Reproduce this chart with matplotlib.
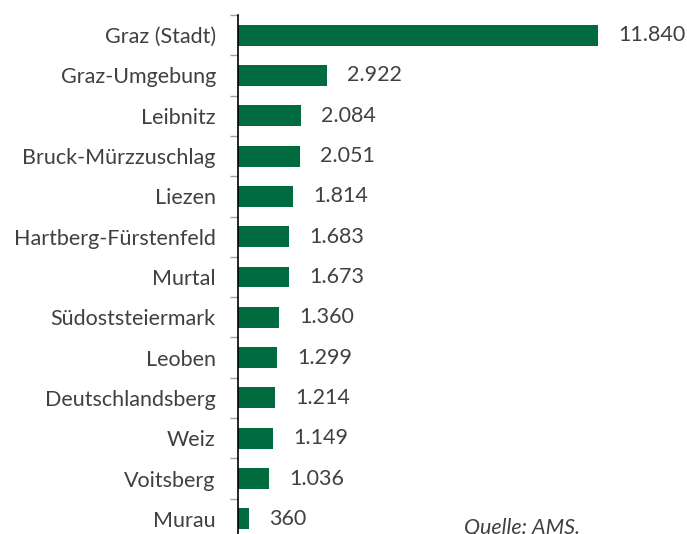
import numpy as np
import matplotlib.pyplot as plt

districts = ["Graz (Stadt)", "Graz-Umgebung", "Leibnitz", "Bruck-Mürzzuschlag", "Liezen",
             "Hartberg-Fürstenfeld", "Murtal", "Südoststeiermark", "Leoben",
             "Deutschlandsberg", "Weiz", "Voitsberg", "Murau"]
values = [11840, 2922, 2084, 2051, 1814, 1683, 1673, 1360, 1299, 1214, 1149, 1036, 360]

green = "#006B3F"
txt = "#404040"
plt.rcParams['font.family'] = ['Lato', 'DejaVu Sans']

fig = plt.figure(figsize=(6.87, 5.34), dpi=100)
ax = fig.add_axes([238 / 687, -5 / 534, 449 / 687, 524 / 534])

y = np.arange(len(districts))
ax.barh(y, values, height=0.52, color=green)
ax.set_ylim(len(districts) - 0.5, -0.5)
ax.set_xlim(0, 449 / 0.0304)

for yi, v in zip(y, values):
    lab = f"{v:,}".replace(",", ".")
    ax.text(v + 660, yi, lab, va="center", ha="left", fontsize=15.5, color=txt)

ax.set_yticks(y)
ax.set_yticklabels(districts, fontsize=15.5, color=txt)
ax.tick_params(axis="y", which="major", length=0, pad=16)
ax.set_yticks(np.arange(len(districts) + 1) - 0.5, minor=True)
ax.tick_params(axis="y", which="minor", length=6, color="#a0a0a0", width=1)
ax.set_xticks([])
for s in ["top", "right", "bottom"]:
    ax.spines[s].set_visible(False)
ax.spines["left"].set_color("black")
ax.spines["left"].set_linewidth(1.2)

fig.text(464 / 687, 1 - 534 / 534, "Quelle: AMS.", fontsize=15.5, style="italic",
         color=txt, ha="left", va="baseline")

fig.savefig("out.png", dpi=100)
